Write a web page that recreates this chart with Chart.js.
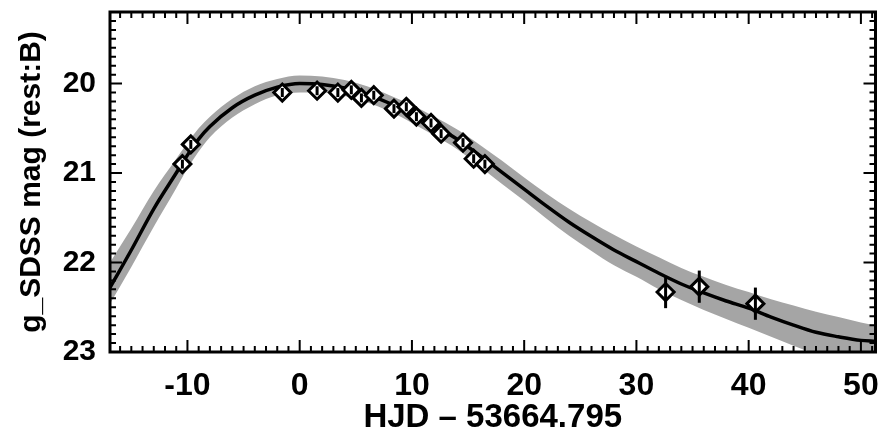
<!DOCTYPE html>
<html lang="en">
<head>
  <meta charset="UTF-8">
  <title>g_SDSS light curve</title>
  <script src="https://cdn.jsdelivr.net/npm/chart.js"></script>
  <style>
    html, body { margin: 0; padding: 0; background: #fff; }
    #wrap { width: 887px; height: 437px; }
  </style>
</head>
<body>
<div id="wrap"><canvas id="lc" width="887" height="437"></canvas></div>

<script>
  // observed photometry (days from HJD 53664.795, magnitude, error)
  var obsX   = [-10.45, -9.7, -1.55, 1.55, 3.4, 4.6, 5.5, 6.6, 8.4, 9.5, 10.4, 11.7, 12.6, 14.55, 15.5, 16.5, 32.6, 35.6, 40.6];
  var obsY   = [20.90, 20.68, 20.10, 20.08, 20.10, 20.07, 20.16, 20.13, 20.28, 20.26, 20.37, 20.44, 20.56, 20.66, 20.84, 20.90, 22.33, 22.27, 22.46];
  var obsErr = [0.05, 0.05, 0.05, 0.05, 0.05, 0.05, 0.05, 0.05, 0.05, 0.05, 0.05, 0.05, 0.05, 0.05, 0.05, 0.05, 0.18, 0.18, 0.18];

  // template fit and its uncertainty band
  var modelX = [-16.9, -15, -13, -11, -10, -9, -8, -6, -4, -2, 0, 2, 4, 6, 8, 10, 12, 14, 16, 18, 20, 22, 24, 26, 28, 30, 32, 34, 36, 38, 40, 42, 44, 46, 48, 50, 51.3];
  var modelY = [22.28, 21.86, 21.40, 21.00, 20.80, 20.62, 20.48, 20.27, 20.13, 20.04, 20.00, 20.01, 20.05, 20.12, 20.22, 20.34, 20.47, 20.62, 20.80, 20.99, 21.18, 21.37, 21.55, 21.71, 21.86, 21.99, 22.12, 22.24, 22.34, 22.43, 22.51, 22.61, 22.70, 22.78, 22.83, 22.87, 22.88];
  var bandUp = [22.00, 21.62, 21.20, 20.84, 20.66, 20.50, 20.37, 20.17, 20.03, 19.95, 19.91, 19.92, 19.96, 20.03, 20.13, 20.24, 20.37, 20.51, 20.68, 20.86, 21.05, 21.23, 21.40, 21.55, 21.69, 21.82, 21.94, 22.06, 22.16, 22.25, 22.33, 22.41, 22.48, 22.55, 22.61, 22.67, 22.70];
  var bandLo = [22.46, 22.05, 21.60, 21.17, 20.95, 20.76, 20.60, 20.38, 20.23, 20.13, 20.10, 20.10, 20.14, 20.21, 20.31, 20.44, 20.58, 20.73, 20.92, 21.12, 21.31, 21.51, 21.70, 21.87, 22.03, 22.16, 22.30, 22.42, 22.53, 22.63, 22.73, 22.83, 22.93, 23.02, 23.07, 23.10, 23.12];

  var xTicks = [-10, 0, 10, 20, 30, 40, 50];
  var yTicks = [20, 21, 22, 23];

  function pts(xs, ys) {
    return xs.map(function(x, i) { return {x: x, y: ys[i]}; });
  }

  var fontFam = "'Liberation Sans', Arial, sans-serif";

  // IDL-style frame with inward ticks on all four sides, plus error bars
  var framePlugin = {
    id: 'frame',
    afterDatasetsDraw: function(chart) {
      var ctx = chart.ctx;
      var a = chart.chartArea;
      var xs = chart.scales.x, ys = chart.scales.y;

      ctx.save();
      ctx.strokeStyle = '#000';
      ctx.lineWidth = 3;
      for (var i = 0; i < obsX.length; i++) {
        var px = xs.getPixelForValue(obsX[i]);
        ctx.beginPath();
        ctx.moveTo(px, ys.getPixelForValue(obsY[i] - obsErr[i]));
        ctx.lineTo(px, ys.getPixelForValue(obsY[i] + obsErr[i]));
        ctx.stroke();
      }
      ctx.restore();

      ctx.save();
      ctx.strokeStyle = '#000';
      ctx.lineWidth = 2;
      ctx.beginPath();
      var v, p, len;
      for (v = Math.ceil(xs.min); v <= xs.max; v += 1) {
        p = xs.getPixelForValue(v);
        len = (v % 10 === 0) ? 12 : 6;
        ctx.moveTo(p, a.bottom); ctx.lineTo(p, a.bottom - len);
        ctx.moveTo(p, a.top); ctx.lineTo(p, a.top + len);
      }
      for (var k = Math.ceil(ys.min * 10); k <= Math.floor(ys.max * 10 + 0.001); k++) {
        p = ys.getPixelForValue(k / 10);
        len = (k % 10 === 0) ? 12 : 6;
        ctx.moveTo(a.left, p); ctx.lineTo(a.left + len, p);
        ctx.moveTo(a.right, p); ctx.lineTo(a.right - len, p);
      }
      ctx.stroke();
      ctx.lineWidth = 3;
      ctx.strokeRect(a.left, a.top, a.right - a.left, a.bottom - a.top);
      ctx.restore();
    }
  };

  new Chart(document.getElementById('lc').getContext('2d'), {
    type: 'scatter',
    data: {
      datasets: [
        {
          data: pts(modelX, bandLo),
          order: 4,
          showLine: true,
          borderWidth: 0,
          borderColor: 'rgba(0,0,0,0)',
          pointRadius: 0,
          cubicInterpolationMode: 'monotone',
          fill: false
        },
        {
          data: pts(modelX, bandUp),
          order: 3,
          showLine: true,
          borderWidth: 0,
          borderColor: 'rgba(0,0,0,0)',
          backgroundColor: 'rgb(165,165,165)',
          pointRadius: 0,
          cubicInterpolationMode: 'monotone',
          fill: '-1'
        },
        {
          data: pts(modelX, modelY),
          order: 2,
          showLine: true,
          borderColor: '#000',
          borderWidth: 3.5,
          pointRadius: 0,
          cubicInterpolationMode: 'monotone',
          fill: false
        },
        {
          data: pts(obsX, obsY),
          order: 1,
          pointStyle: 'rectRot',
          pointRadius: 8.5,
          pointBorderWidth: 3,
          pointBorderColor: '#000',
          pointBackgroundColor: '#fff'
        }
      ]
    },
    options: {
      responsive: false,
      animation: false,
      events: [],
      layout: { padding: { top: 12, right: 11, left: 0, bottom: 0 } },
      plugins: { legend: { display: false }, tooltip: { enabled: false } },
      scales: {
        x: {
          type: 'linear',
          min: -16.9,
          max: 51.3,
          afterBuildTicks: function(s) { s.ticks = xTicks.map(function(v) { return {value: v}; }); },
          afterFit: function(s) { s.height = 85; s.paddingLeft = 0; s.paddingRight = 0; },
          grid: { display: false, drawTicks: false },
          border: { display: false },
          ticks: {
            autoSkip: false, maxRotation: 0, padding: 18, color: '#000',
            font: { family: fontFam, size: 32, weight: 'bold', lineHeight: 1 }
          },
          title: {
            display: true, text: 'HJD \u2013 53664.795', color: '#000',
            padding: { top: 0, bottom: 3 },
            font: { family: fontFam, size: 33, weight: 'bold', lineHeight: 1 }
          }
        },
        y: {
          type: 'linear',
          reverse: true,
          min: 19.2,
          max: 23.0,
          afterBuildTicks: function(s) { s.ticks = yTicks.map(function(v) { return {value: v}; }); },
          afterFit: function(s) { s.width = 110; s.paddingTop = 0; s.paddingBottom = 0; },
          grid: { display: false, drawTicks: false },
          border: { display: false },
          ticks: {
            autoSkip: false, padding: 14, color: '#000',
            font: { family: fontFam, size: 30, weight: 'bold', lineHeight: 1 }
          },
          title: {
            display: true, text: 'g_SDSS mag (rest:B)', color: '#000',
            padding: { top: 17, bottom: 0 },
            font: { family: fontFam, size: 30, weight: 'bold', lineHeight: 1 }
          }
        }
      }
    },
    plugins: [framePlugin]
  });
</script>
</body>
</html>
